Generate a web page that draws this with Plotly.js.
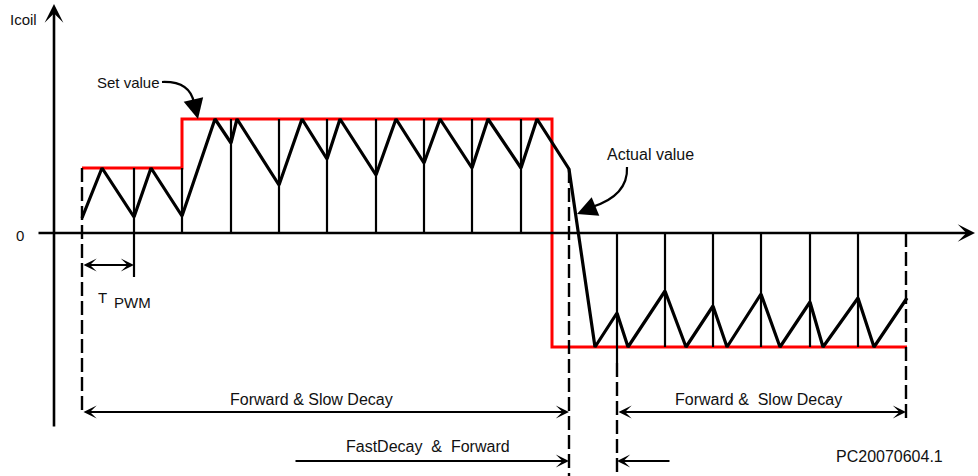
<!DOCTYPE html>
<html><head><meta charset="utf-8">
<script src="https://cdn.plot.ly/plotly-3.0.1.min.js"></script>
<style>html,body{margin:0;padding:0;background:#fff;}#chart{width:978px;height:476px;}</style>
</head><body><div id="chart"></div>
<script>
// time (arbitrary units) and coil current (0 = time axis)
const setT = [82, 182, 552, 907];
const setI = [65, 114, -114, -114];

const actT = [82,102,134,151,182,215,231,237,279,302,327,340,376,396,424,440,472,488,521,537,569,595,617,628,665,686,713,727,761,780,810,823,858,874,907];
const actI = [15,65,16,65,17,114,90,114,48,114,74,114,58,114,70,114,65,114,65,114,64,-114,-80,-114,-58,-114,-73,-114,-61,-114,-69,-114,-65,-114,-65];

const pwmPos = [134,182,231,279,327,376,424,472,521];
const pwmNeg = [617,665,713,761,810,858];

const phaseStart = 82, fastStart = 569, slowStart = 617, phaseEnd = 906;

const labels = {
  yAxis: 'Icoil', zero: '0', setv: 'Set value', actv: 'Actual value',
  t: 'T', pwm: 'PWM',
  fwd1: 'Forward & Slow Decay', fwd2: 'Forward &\u00a0 Slow Decay',
  fast: 'FastDecay\u00a0 &\u00a0 Forward', code: 'PC20070604.1'
};

function setAt(t){ if (t <= setT[1]) return setI[0]; if (t < setT[2]) return setI[1]; return setI[2]; }

const BLACK = '#000000', RED = '#ff0000';
const F = {family:'Liberation Sans, Arial, Helvetica, sans-serif', size:15, color:'#111'};
const F16 = Object.assign({}, F, {size:16});

const traces = [
  {x:setT, y:setI, mode:'lines', line:{color:RED, width:3, shape:'hv'}, hoverinfo:'skip'},
  {x:actT, y:actI, mode:'lines', line:{color:BLACK, width:3.2}, hoverinfo:'skip'}
];

const shapes = [];
function vline(x, y0, y1, w, dash){ shapes.push({type:'line', xref:'x', yref:'y', x0:x, x1:x, y0:y0, y1:y1, line:{color:BLACK, width:w, dash:dash||'solid'}}); }
pwmPos.forEach(t => vline(t, 0, setAt(t), 2.2));
pwmNeg.forEach(t => vline(t, 0, setI[2], 2.2));
vline(pwmPos[0], -44, 0, 2.2);          // T_PWM marker
vline(slowStart, -130, setI[2], 2.2);
const DASH = '14px,5px';
vline(phaseStart, setI[0], -182, 2.4, DASH);
vline(fastStart, 64, -243, 2.4, DASH);
vline(slowStart, -130, -243, 2.4, DASH);
vline(phaseEnd, 0, -185, 2.4, DASH);
// curved pointers
shapes.push({type:'path', xref:'x', yref:'y', path:'M 162 151 Q 190 152 194 130', line:{color:BLACK, width:2.2}});
shapes.push({type:'path', xref:'x', yref:'y', path:'M 627 66 C 628 45 614 33 592 26', line:{color:BLACK, width:2.2}});

const ann = [];
function arrow(x, y, ax, ay, opts){
  ann.push(Object.assign({x:x, y:y, ax:ax, ay:ay, xref:'x', yref:'y', axref:'x', ayref:'y', text:'', showarrow:true,
    arrowhead:3, arrowsize:1.1, arrowwidth:2, arrowcolor:BLACK, standoff:0, startstandoff:0}, opts||{}));
}
function label(x, y, text, extra){
  ann.push(Object.assign({x:x, y:y, xref:'x', yref:'y', text:text, showarrow:false, font:F, xanchor:'center', yanchor:'middle'}, extra||{}));
}
// axes
arrow(975, 0, 37, 0, {arrowwidth:2.4, arrowsize:1.2});
arrow(54, 229, 54, -195, {arrowwidth:2.6, arrowsize:1.2});
// intervals
arrow(pwmPos[0], -32, phaseStart, -32, {arrowside:'end+start'});
arrow(fastStart, -179, phaseStart, -179, {arrowside:'end+start'});
arrow(phaseEnd, -179, slowStart, -179, {arrowside:'end+start'});
arrow(fastStart, -228, 294, -228);
arrow(slowStart, -228, 671, -228);
// pointer heads
arrow(198, 114, 194, 131, {arrowhead:2, arrowsize:2});
arrow(577, 19, 594, 26, {arrowhead:2, arrowsize:2});
// texts
label(23, 214, labels.yAxis);
label(20, -2, labels.zero);
label(128, 151, labels.setv);
label(650, 79, labels.actv, {font:F16});
label(102, -64, labels.t);
label(132, -69, labels.pwm);
label(311, -166, labels.fwd1, {font:F16});
label(758, -166, labels.fwd2, {font:F16});
label(428, -213, labels.fast, {font:F16});
label(889, -223, labels.code, {font:F16});

const layout = {
  width:978, height:476, margin:{l:0,r:0,t:0,b:0},
  paper_bgcolor:'#fff', plot_bgcolor:'#fff', showlegend:false,
  xaxis:{range:[0,978], visible:false, fixedrange:true},
  yaxis:{range:[-243,233], visible:false, fixedrange:true},
  shapes:shapes, annotations:ann
};
Plotly.newPlot('chart', traces, layout, {staticPlot:true, displayModeBar:false});
</script></body></html>
